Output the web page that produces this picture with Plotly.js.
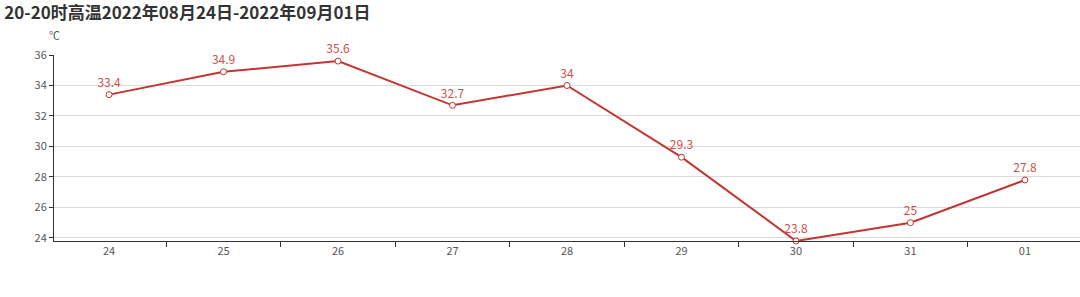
<!DOCTYPE html>
<html>
<head>
<meta charset="utf-8">
<script src="https://cdn.plot.ly/plotly-3.0.1.min.js"></script>
<style>html,body{margin:0;padding:0;background:#fff}#chart{width:1080px;height:297px}</style>
</head>
<body>
<div id="chart"></div>
<script>
const days = ['24','25','26','27','28','29','30','31','01'];
const highTemps = [33.4, 34.9, 35.6, 32.7, 34, 29.3, 23.8, 25, 27.8];
const yTicks = [24, 26, 28, 30, 32, 34, 36];
const chartTitle = '20-20时高温2022年08月24日-2022年09月01日';
const unitLabel = '℃';

const font = '"Noto Sans CJK SC", "Noto Sans", sans-serif';
const lineColor = '#c23531';

const trace = {
  x: days,
  y: highTemps,
  type: 'scatter',
  mode: 'lines+markers+text',
  text: highTemps.map(String),
  textposition: 'top center',
  textfont: {family: font, size: 12, color: '#d0504c'},
  line: {color: lineColor, width: 2},
  marker: {symbol: 'circle', size: 6, color: '#fff', line: {color: lineColor, width: 1}},
  cliponaxis: false,
  hoverinfo: 'x+y'
};

const layout = {
  width: 1080, height: 297,
  margin: {l: 54, r: 0, t: 55, b: 56},
  paper_bgcolor: '#fff', plot_bgcolor: '#fff',
  showlegend: false,
  font: {family: font, size: 11, color: '#555'},
  title: {
    text: '<b>' + chartTitle + '</b>',
    x: 0.004, xref: 'container', xanchor: 'left',
    y: 1 - 13/297, yref: 'container', yanchor: 'middle',
    font: {family: font, size: 17, color: '#333'}
  },
  xaxis: {
    type: 'category',
    categoryorder: 'array', categoryarray: days,
    tickson: 'boundaries',
    ticks: 'outside', ticklen: 5, tickcolor: '#333', tickwidth: 1,
    showline: true, linecolor: '#333', linewidth: 1,
    showgrid: false, zeroline: false,
    tickfont: {family: font, size: 11, color: '#555'},
    fixedrange: true
  },
  yaxis: {
    range: [23.8, 36],
    tickvals: yTicks,
    ticks: 'outside', ticklen: 4, tickcolor: '#333',
    showline: true, linecolor: '#333', linewidth: 1,
    showgrid: true, gridcolor: '#dcdcdc', gridwidth: 1,
    zeroline: false,
    tickfont: {family: font, size: 11, color: '#555'},
    fixedrange: true
  },
  annotations: [{
    text: unitLabel, xref: 'paper', yref: 'paper',
    x: 0, y: 1 + 20/186, xanchor: 'center', yanchor: 'middle',
    showarrow: false, font: {family: font, size: 11, color: '#555'}
  }]
};

Plotly.newPlot('chart', [trace], layout, {displayModeBar: false, staticPlot: true});
</script>
</body>
</html>
